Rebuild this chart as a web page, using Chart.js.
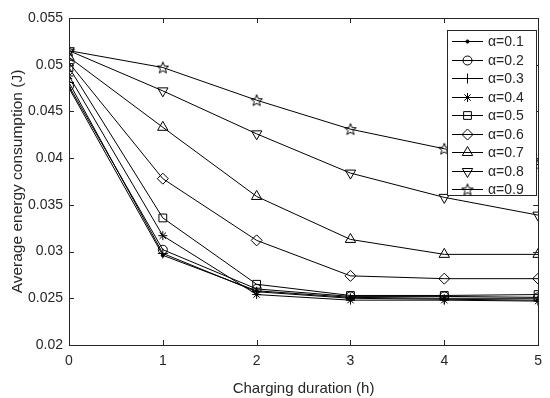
<!DOCTYPE html>
<html>
<head>
<meta charset="utf-8">
<script src="https://cdn.jsdelivr.net/npm/chart.js@4/dist/chart.umd.min.js"></script>
<style>
html,body{margin:0;padding:0;background:#fff;}
#wrap{width:550px;height:398px;}
</style>
</head>
<body>
<div id="wrap"><canvas id="c" width="550" height="398"></canvas></div>
<script>
// ---- data ----
const durations = [0, 1, 2, 3, 4, 5];
const labels = ['α=0.1','α=0.2','α=0.3','α=0.4','α=0.5','α=0.6','α=0.7','α=0.8','α=0.9'];
const a01 = [0.0475, 0.0296, 0.0258, 0.0251, 0.0250, 0.0250];
const a02 = [0.0477, 0.0302, 0.0260, 0.0252, 0.0252, 0.0251];
const a03 = [0.0481, 0.0298, 0.0257, 0.0250, 0.0249, 0.0248];
const a04 = [0.0488, 0.0317, 0.0254, 0.0248, 0.0248, 0.0247];
const a05 = [0.0497, 0.0336, 0.0265, 0.0253, 0.0253, 0.0254];
const a06 = [0.0502, 0.0378, 0.0312, 0.0274, 0.0271, 0.0271];
const a07 = [0.0508, 0.0433, 0.0359, 0.0313, 0.0297, 0.0297];
const a08 = [0.0515, 0.0472, 0.0426, 0.0384, 0.0358, 0.0339];
const a09 = [0.0515, 0.0497, 0.0462, 0.0431, 0.0410, 0.0393];
const yTicks = [0.02, 0.025, 0.03, 0.035, 0.04, 0.045, 0.05, 0.055];
const xTicks = [0, 1, 2, 3, 4, 5];

// pentagram marker
function makeStar(){
  const s = 14, c = document.createElement('canvas');
  c.width = s; c.height = s;
  const g = c.getContext('2d');
  const cx = s/2, cy = s/2 + 0.5, R = 6, r = 2.6;
  g.beginPath();
  for (let i = 0; i < 10; i++) {
    const ang = -Math.PI/2 + i*Math.PI/5;
    const rad = i % 2 === 0 ? R : r;
    const px = cx + rad*Math.cos(ang), py = cy + rad*Math.sin(ang);
    if (i === 0) g.moveTo(px, py); else g.lineTo(px, py);
  }
  g.closePath();
  g.strokeStyle = '#000'; g.lineWidth = 1; g.stroke();
  return c;
}
const starImg = makeStar();

const series = [a01,a02,a03,a04,a05,a06,a07,a08,a09];
const styles = [
  {pointStyle:'circle', pointRadius:1.6, fill:'#000', rot:0},
  {pointStyle:'circle', pointRadius:4.5, fill:'rgba(0,0,0,0)', rot:0},
  {pointStyle:'cross', pointRadius:5, fill:'rgba(0,0,0,0)', rot:0},
  {pointStyle:'star', pointRadius:4.5, fill:'rgba(0,0,0,0)', rot:0},
  {pointStyle:'rect', pointRadius:5.5, fill:'rgba(0,0,0,0)', rot:0},
  {pointStyle:'rectRot', pointRadius:5.5, fill:'rgba(0,0,0,0)', rot:0},
  {pointStyle:'triangle', pointRadius:6, fill:'rgba(0,0,0,0)', rot:0},
  {pointStyle:'triangle', pointRadius:6, fill:'rgba(0,0,0,0)', rot:180},
  {pointStyle:starImg, pointRadius:6, fill:'rgba(0,0,0,0)', rot:0}
];

const datasets = series.map((vals, i) => ({
  label: labels[i],
  data: durations.map((d, j) => ({x: d, y: vals[j]})),
  borderColor: '#000',
  backgroundColor: styles[i].fill,
  borderWidth: 1,
  pointStyle: styles[i].pointStyle,
  pointRadius: styles[i].pointRadius,
  pointRotation: styles[i].rot,
  pointBorderColor: '#000',
  pointBackgroundColor: styles[i].fill,
  pointBorderWidth: 1,
  tension: 0
}));

const AX = '#262626';
const FONT = '"Liberation Sans", Arial, sans-serif';

const boxPlugin = {
  id: 'box',
  afterDraw(chart) {
    const {ctx, chartArea: a, scales} = chart;
    ctx.save();
    ctx.strokeStyle = AX; ctx.lineWidth = 1;
    ctx.strokeRect(Math.round(a.left)+0.5, Math.round(a.top)+0.5, Math.round(a.right-a.left), Math.round(a.bottom-a.top));
    const L = 5;
    ctx.beginPath();
    yTicks.forEach(v => {
      const y = Math.round(scales.y.getPixelForValue(v)) + 0.5;
      ctx.moveTo(a.left, y); ctx.lineTo(a.left + L, y);
      ctx.moveTo(a.right, y); ctx.lineTo(a.right - L, y);
    });
    xTicks.forEach(v => {
      const x = Math.round(scales.x.getPixelForValue(v)) + 0.5;
      ctx.moveTo(x, a.bottom); ctx.lineTo(x, a.bottom - L);
      ctx.moveTo(x, a.top); ctx.lineTo(x, a.top + L);
    });
    ctx.stroke();

    // legend
    const bx = 447.5, by = 30.5, bw = 89, bh = 165;
    ctx.fillStyle = '#fff';
    ctx.fillRect(bx, by, bw, bh);
    ctx.strokeStyle = AX;
    ctx.strokeRect(bx, by, bw, bh);
    ctx.font = '14px ' + FONT;
    ctx.textBaseline = 'middle';
    ctx.textAlign = 'left';
    chart.data.datasets.forEach((ds, i) => {
      const y = Math.round(by + 10.5 + i * 18.5) + 0.5;
      ctx.strokeStyle = '#000'; ctx.lineWidth = 1;
      ctx.beginPath(); ctx.moveTo(452, y); ctx.lineTo(483, y); ctx.stroke();
      ctx.fillStyle = ds.pointBackgroundColor;
      ctx.strokeStyle = '#000';
      Chart.helpers.drawPoint(ctx, {pointStyle: ds.pointStyle, rotation: ds.pointRotation, radius: ds.pointRadius, borderWidth: 1}, 467.5, y);
      ctx.fillStyle = AX;
      ctx.fillText(ds.label, 488, y + 1);
    });
    ctx.restore();
  }
};

new Chart(document.getElementById('c'), {
  type: 'line',
  data: { datasets },
  options: {
    responsive: false,
    animation: false,
    layout: { padding: { left: 0, right: 10, top: 18, bottom: 0 } },
    plugins: { legend: { display: false }, tooltip: { enabled: false } },
    scales: {
      x: {
        type: 'linear', min: 0, max: 5,
        afterBuildTicks(s) { s.ticks = xTicks.map(v => ({value: v})); },
        afterFit(s) { s.height = 53; },
        grid: { display: false, drawTicks: false }, border: { display: false },
        ticks: { color: AX, font: { size: 14, family: FONT }, padding: 8, maxRotation: 0,
                 callback: v => String(v) },
        title: { display: true, text: 'Charging duration (h)', color: AX, font: { size: 15, family: FONT }, padding: { top: 0, bottom: 0 } }
      },
      y: {
        type: 'linear', min: 0.02, max: 0.055,
        afterBuildTicks(s) { s.ticks = yTicks.map(v => ({value: v})); },
        afterFit(s) { s.width = 69; },
        grid: { display: false, drawTicks: false }, border: { display: false },
        ticks: { color: AX, font: { size: 14, family: FONT }, padding: 6,
                 callback: v => String(parseFloat(Number(v).toFixed(4))) },
        title: { display: true, text: 'Average energy consumption (J)', color: AX, font: { size: 15.5, family: FONT }, padding: { top: 8, bottom: 0 } }
      }
    }
  },
  plugins: [boxPlugin]
});
</script>
</body>
</html>
